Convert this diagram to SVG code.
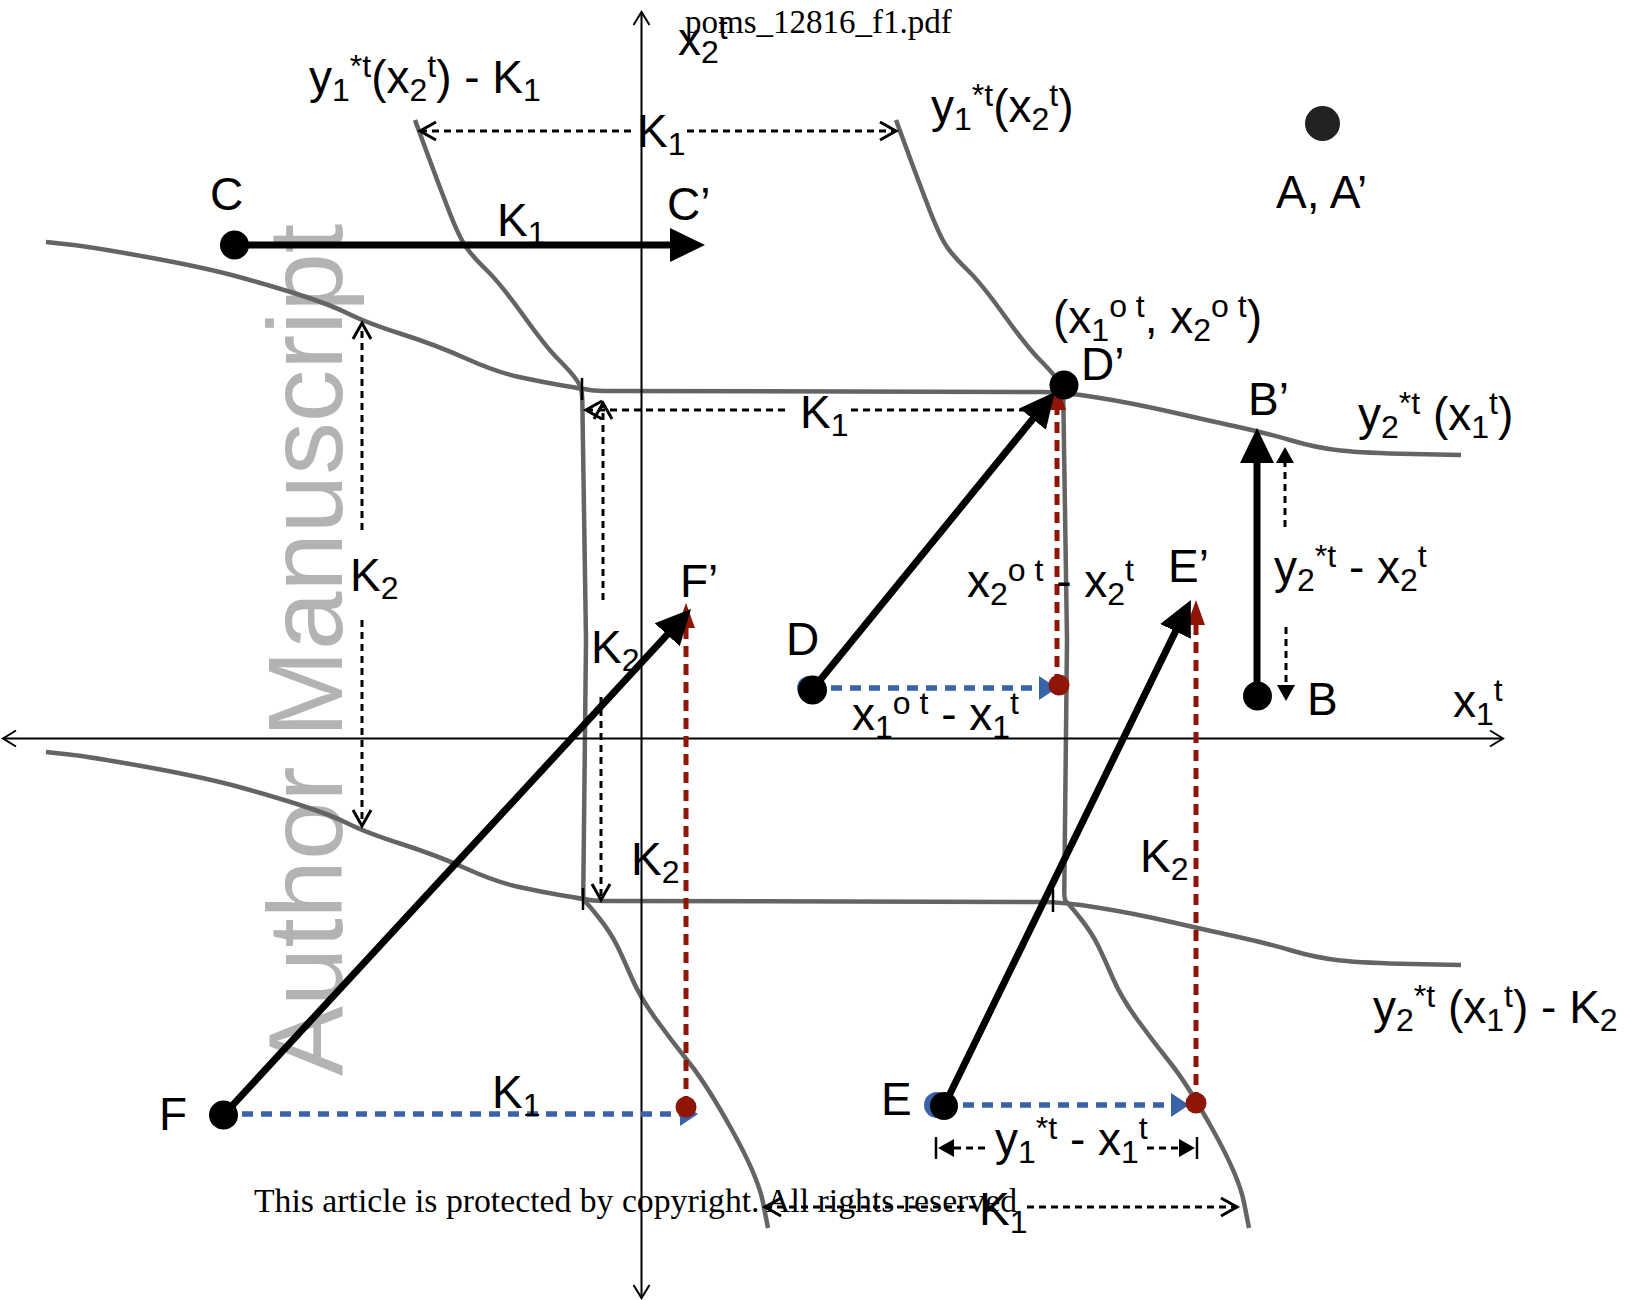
<svg xmlns="http://www.w3.org/2000/svg" width="1627" height="1300" viewBox="0 0 1627 1300">
<defs>
<style>
.t{font-family:"Liberation Sans",Arial,Helvetica,sans-serif;font-size:46px;fill:#000}
.s{font-size:32px}
.serif{font-family:"Liberation Serif","Times New Roman",serif;font-size:33px;fill:#000}
.wm{font-family:"Liberation Sans",Arial,sans-serif;font-size:105px;fill:#b3b3b3}
.curve{fill:none;stroke:#646464;stroke-width:4.5;stroke-linejoin:round;stroke-linecap:butt}
.axis{fill:none;stroke:#000;stroke-width:2}
.thick{fill:none;stroke:#000;stroke-width:7}
.dash{fill:none;stroke:#000;stroke-width:3;stroke-dasharray:7 5}
.blue{fill:none;stroke:#3a62a8;stroke-width:5.5;stroke-dasharray:11 8}
.red{fill:none;stroke:#8f1506;stroke-width:5;stroke-dasharray:11 7}
.dot{fill:#000}
.rdot{fill:#8f1506}
.tick{stroke:#000;stroke-width:2.5}
</style>
<marker id="ah" markerUnits="userSpaceOnUse" viewBox="0 -20 40 40" markerWidth="40" markerHeight="40" refX="2" refY="0" orient="auto"><path d="M0,-17L35,0L0,17z" fill="#000"/></marker>
<marker id="ahR" markerUnits="userSpaceOnUse" viewBox="0 -12 30 24" markerWidth="30" markerHeight="24" refX="1" refY="0" orient="auto"><path d="M0,-9L25,0L0,9z" fill="#8f1506"/></marker>
<marker id="ahB" markerUnits="userSpaceOnUse" viewBox="0 -14 22 28" markerWidth="22" markerHeight="28" refX="1" refY="0" orient="auto"><path d="M0,-12L18,0L0,12z" fill="#3a62a8"/></marker>
<marker id="ahS" markerUnits="userSpaceOnUse" viewBox="0 -10 18 20" markerWidth="18" markerHeight="20" refX="1" refY="0" orient="auto"><path d="M0,-9L16,0L0,9z" fill="#000"/></marker>
<marker id="open" markerUnits="userSpaceOnUse" viewBox="-20 -12 25 24" markerWidth="25" markerHeight="24" refX="0" refY="0" orient="auto-start-reverse"><path d="M-16,-9L0,0L-16,9" fill="none" stroke="#000" stroke-width="3"/></marker>
<marker id="openA" markerUnits="userSpaceOnUse" viewBox="-16 -10 20 20" markerWidth="20" markerHeight="20" refX="0" refY="0" orient="auto-start-reverse"><path d="M-13,-8L0,0L-13,8" fill="none" stroke="#000" stroke-width="2"/></marker>
</defs>
<rect width="1627" height="1300" fill="#fff"/>

<text class="wm" transform="translate(342,1076) rotate(-90)">Author Manuscript</text>

<g id="curves">
<path id="curve-y2" class="curve" d="M46,242L69,244.5Q92,247 149.5,257.5Q207,268 241,277.5Q275,287 303,296Q331,305 349,314Q367,323 401.5,334Q436,345 466,358.5Q496,372 519,377Q542,382 562.5,385.5Q583,389 590,390Q597,391 610,391L1040,392Q1063,392 1097,397.5Q1132,403 1173.5,412.5Q1215,422 1240.5,427.5Q1266,433 1291.5,440.5Q1317,448 1340.5,450.5Q1364,453 1412.5,454L1461,455"/>
<path id="curve-y2-K2" class="curve" transform="translate(0,510)" d="M46,242L69,244.5Q92,247 149.5,257.5Q207,268 241,277.5Q275,287 303,296Q331,305 349,314Q367,323 401.5,334Q436,345 466,358.5Q496,372 519,377Q542,382 562.5,385.5Q583,389 590,390Q597,391 610,391L1040,392Q1063,392 1097,397.5Q1132,403 1173.5,412.5Q1215,422 1240.5,427.5Q1266,433 1291.5,440.5Q1317,448 1340.5,450.5Q1364,453 1412.5,454L1461,455"/>
<path id="curve-y1-K1" class="curve" d="M415,120L426,150Q437,180 448,208.5Q459,237 466,247Q473,257 486.5,270Q500,283 523,315Q546,347 557.5,358.5Q569,370 574,376.5Q579,383 580.5,387Q582,391 582.3,400L586,640L583.3,890Q583,900 585.5,902Q588,904 599.5,918.5Q611,933 617.5,946.5Q624,960 632,978.5Q640,997 655.5,1018.5Q671,1040 689,1062.5Q707,1085 732.5,1131Q758,1177 763,1202.5L768,1228"/>
<path id="curve-y1" class="curve" transform="translate(481,0)" d="M415,120L426,150Q437,180 448,208.5Q459,237 466,247Q473,257 486.5,270Q500,283 523,315Q546,347 557.5,358.5Q569,370 574,376.5Q579,383 580.5,387Q582,391 582.3,400L586,640L583.3,890Q583,900 585.5,902Q588,904 599.5,918.5Q611,933 617.5,946.5Q624,960 632,978.5Q640,997 655.5,1018.5Q671,1040 689,1062.5Q707,1085 732.5,1131Q758,1177 763,1202.5L768,1228"/>
<line class="tick" x1="582" y1="378" x2="582" y2="400"/>
<line class="tick" x1="583" y1="888" x2="583" y2="910"/>
<line class="tick" x1="1053" y1="889" x2="1053" y2="912"/>
</g>

<g id="axes">
<line class="axis" x1="3" y1="738.5" x2="1503" y2="738.5" marker-start="url(#openA)" marker-end="url(#openA)"/>
<line class="axis" x1="641.5" y1="1298" x2="641.5" y2="12" marker-start="url(#openA)" marker-end="url(#openA)"/>
</g>

<g id="connectors">
<line class="dash" x1="420" y1="131" x2="635" y2="131" marker-start="url(#open)"/>
<line class="dash" x1="687" y1="131" x2="896" y2="131" marker-end="url(#open)"/>
<line class="dash" x1="586" y1="410" x2="790" y2="410" marker-start="url(#open)"/>
<line class="dash" x1="851" y1="410" x2="1032" y2="410"/>
<line class="dash" x1="765" y1="1207" x2="978" y2="1207" marker-start="url(#open)"/>
<line class="dash" x1="1027" y1="1207" x2="1237" y2="1207" marker-end="url(#open)"/>
<line class="dash" x1="362" y1="530" x2="362" y2="323" marker-end="url(#open)"/>
<line class="dash" x1="362" y1="620" x2="362" y2="826" marker-end="url(#open)"/>
<line class="dash" x1="603" y1="600" x2="603" y2="403" marker-end="url(#open)"/>
<line class="dash" x1="601" y1="697" x2="601" y2="900" marker-end="url(#open)"/>
<line class="dash" x1="1285" y1="527" x2="1285" y2="462" marker-end="url(#ahS)"/>
<line class="dash" x1="1286" y1="627" x2="1286" y2="686" marker-end="url(#ahS)"/>
<line class="dash" x1="985" y1="1148" x2="953" y2="1148" marker-end="url(#ahS)"/>
<line class="dash" x1="1147" y1="1148" x2="1180" y2="1148" marker-end="url(#ahS)"/>
<line class="tick" x1="936" y1="1137" x2="936" y2="1159"/>
<line class="tick" x1="1197" y1="1137" x2="1197" y2="1159"/>
<circle cx="809" cy="688" r="12" fill="#3a62a8"/>
<circle cx="937" cy="1105" r="13" fill="#3a62a8"/>
<line class="blue" x1="812" y1="688" x2="1040" y2="688" marker-end="url(#ahB)"/>
<line class="blue" x1="223" y1="1114" x2="681" y2="1114" marker-end="url(#ahB)"/>
<line class="blue" x1="944" y1="1105" x2="1172" y2="1105" marker-end="url(#ahB)"/>
<line class="red" x1="1057" y1="685" x2="1057" y2="409" marker-end="url(#ahR)"/>
<line class="red" x1="686" y1="1107" x2="686" y2="627" marker-end="url(#ahR)"/>
<line class="red" x1="1196" y1="1103" x2="1196" y2="624" marker-end="url(#ahR)"/>
<line class="thick" x1="234.5" y1="245" x2="672" y2="245" marker-end="url(#ah)"/>
<line class="thick" x1="812" y1="690" x2="1034" y2="417.5" marker-end="url(#ah)"/>
<line class="thick" x1="223.5" y1="1115" x2="668.6" y2="633.2" marker-end="url(#ah)"/>
<line class="thick" x1="944" y1="1106" x2="1176.4" y2="629.6" marker-end="url(#ah)"/>
<line class="thick" x1="1257" y1="696" x2="1257" y2="461" marker-end="url(#ah)"/>
<circle class="rdot" cx="1059" cy="685" r="10.5"/>
<circle class="rdot" cx="686" cy="1107" r="10.5"/>
<circle class="rdot" cx="1196" cy="1103" r="10.5"/>
</g>

<g id="node-A"><circle cx="1322.5" cy="123.5" r="17.5" fill="#222"/><text class="t" x="1276" y="208">A, A’</text></g>
<g id="node-C"><circle class="dot" cx="234.5" cy="245" r="14.5"/><text class="t" x="210" y="210">C</text></g>
<g id="node-C2"><text class="t" x="667" y="220">C’</text></g>
<g id="node-D"><circle class="dot" cx="812.5" cy="690" r="14.5"/><text class="t" x="786" y="655">D</text></g>
<g id="node-D2"><circle class="dot" cx="1064" cy="385" r="14.5"/><text class="t" x="1081" y="380">D’</text></g>
<g id="node-B"><circle class="dot" cx="1257.5" cy="696" r="14.5"/><text class="t" x="1307" y="715">B</text></g>
<g id="node-B2"><text class="t" x="1248" y="415">B’</text></g>
<g id="node-E"><circle class="dot" cx="944" cy="1106" r="14"/><text class="t" x="881" y="1115">E</text></g>
<g id="node-E2"><text class="t" x="1168" y="582">E’</text></g>
<g id="node-F"><circle class="dot" cx="223.5" cy="1115" r="14.5"/><text class="t" x="159" y="1130">F</text></g>
<g id="node-F2"><text class="t" x="680" y="597">F’</text></g>

<g id="labels">
<text class="t" x="678" y="55">x<tspan class="s" dy="8">2</tspan><tspan class="s" dy="-24">t</tspan></text>
<text class="serif" x="685" y="33">poms_12816_f1.pdf</text>
<text class="t" x="309" y="93">y<tspan class="s" dy="8">1</tspan><tspan class="s" dy="-24">*t</tspan><tspan dy="16">(x</tspan><tspan class="s" dy="8">2</tspan><tspan class="s" dy="-24">t</tspan><tspan dy="16">) - K</tspan><tspan class="s" dy="8">1</tspan></text>
<text class="t" x="931" y="122">y<tspan class="s" dy="8">1</tspan><tspan class="s" dy="-24">*t</tspan><tspan dy="16">(x</tspan><tspan class="s" dy="8">2</tspan><tspan class="s" dy="-24">t</tspan><tspan dy="16">)</tspan></text>
<text class="t" x="637" y="147">K<tspan class="s" dy="8">1</tspan></text>
<text class="t" x="497" y="236">K<tspan class="s" dy="8">1</tspan></text>
<text class="t" x="1053" y="333">(x<tspan class="s" dy="8">1</tspan><tspan class="s" dy="-24">o t</tspan><tspan dy="16">, x</tspan><tspan class="s" dy="8">2</tspan><tspan class="s" dy="-24">o t</tspan><tspan dy="16">)</tspan></text>
<text class="t" x="800" y="428">K<tspan class="s" dy="8">1</tspan></text>
<text class="t" x="1358" y="430">y<tspan class="s" dy="8">2</tspan><tspan class="s" dy="-24">*t</tspan><tspan dy="16"> (x</tspan><tspan class="s" dy="8">1</tspan><tspan class="s" dy="-24">t</tspan><tspan dy="16">)</tspan></text>
<text class="t" x="350" y="591">K<tspan class="s" dy="8">2</tspan></text>
<text class="t" x="967" y="597">x<tspan class="s" dy="8">2</tspan><tspan class="s" dy="-24">o t</tspan><tspan dy="16"> - x</tspan><tspan class="s" dy="8">2</tspan><tspan class="s" dy="-24">t</tspan></text>
<text class="t" x="1274" y="583">y<tspan class="s" dy="8">2</tspan><tspan class="s" dy="-24">*t</tspan><tspan dy="16"> - x</tspan><tspan class="s" dy="8">2</tspan><tspan class="s" dy="-24">t</tspan></text>
<text class="t" x="591" y="663">K<tspan class="s" dy="8">2</tspan></text>
<text class="t" x="1453" y="717">x<tspan class="s" dy="8">1</tspan><tspan class="s" dy="-24">t</tspan></text>
<text class="t" x="852" y="730">x<tspan class="s" dy="8">1</tspan><tspan class="s" dy="-24">o t</tspan><tspan dy="16"> - x</tspan><tspan class="s" dy="8">1</tspan><tspan class="s" dy="-24">t</tspan></text>
<text class="t" x="631" y="875">K<tspan class="s" dy="8">2</tspan></text>
<text class="t" x="1140" y="872">K<tspan class="s" dy="8">2</tspan></text>
<text class="t" x="1373" y="1023">y<tspan class="s" dy="8">2</tspan><tspan class="s" dy="-24">*t</tspan><tspan dy="16"> (x</tspan><tspan class="s" dy="8">1</tspan><tspan class="s" dy="-24">t</tspan><tspan dy="16">) - K</tspan><tspan class="s" dy="8">2</tspan></text>
<text class="t" x="492" y="1108">K<tspan class="s" dy="8">1</tspan></text>
<text class="t" x="995" y="1155">y<tspan class="s" dy="8">1</tspan><tspan class="s" dy="-24">*t</tspan><tspan dy="16"> - x</tspan><tspan class="s" dy="8">1</tspan><tspan class="s" dy="-24">t</tspan></text>
<text class="t" x="979" y="1225">K<tspan class="s" dy="8">1</tspan></text>
<text class="serif" x="254" y="1212" textLength="763" lengthAdjust="spacingAndGlyphs">This article is protected by copyright. All rights reserved</text>
</g>
</svg>
